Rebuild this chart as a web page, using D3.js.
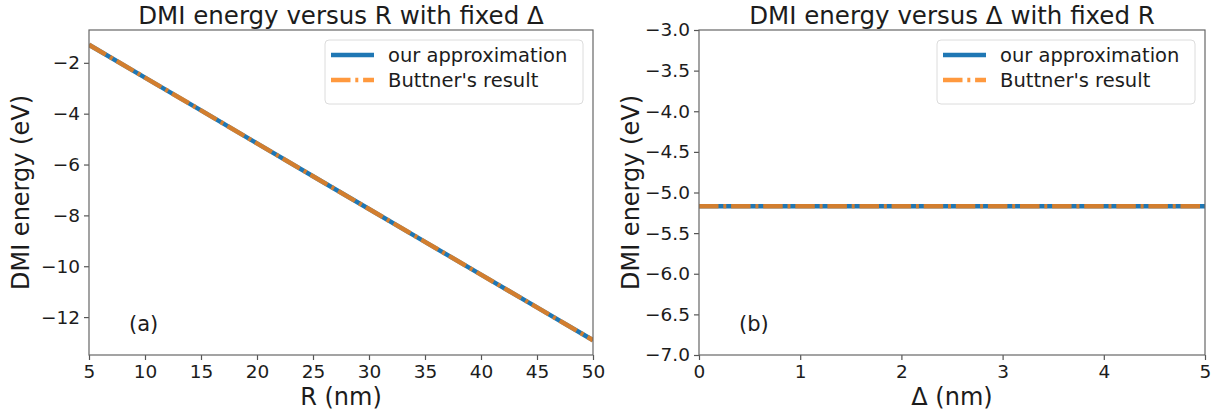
<!DOCTYPE html>
<html>
<head>
<meta charset="utf-8">
<script src="https://cdnjs.cloudflare.com/ajax/libs/d3/7.8.5/d3.min.js"></script>
<style>
    body { margin: 0; background: #fff; }
    svg text { font-family: "DejaVu Sans", sans-serif; fill: #1c1c1c; }
</style>
</head>
<body>
<svg id="chart" width="1217" height="418"></svg>
<script>
// values
const R_VALUES = [5, 10, 15, 20, 25, 30, 35, 40, 45, 50];
const APPROX_VS_R = [-1.29, -2.58, -3.87, -5.17, -6.46, -7.75, -9.04, -10.33, -11.62, -12.91];
const BUTTNER_VS_R = [-1.29, -2.58, -3.87, -5.17, -6.46, -7.75, -9.04, -10.33, -11.62, -12.91];

const DELTA_VALUES = [0, 0.5, 1, 1.5, 2, 2.5, 3, 3.5, 4, 4.5, 5];
const APPROX_VS_DELTA = [-5.17, -5.17, -5.17, -5.17, -5.17, -5.17, -5.17, -5.17, -5.17, -5.17, -5.17];
const BUTTNER_VS_DELTA = [-5.17, -5.17, -5.17, -5.17, -5.17, -5.17, -5.17, -5.17, -5.17, -5.17, -5.17];

const R_TICKS = [5, 10, 15, 20, 25, 30, 35, 40, 45, 50];
const R_ENERGY_TICKS = [-2, -4, -6, -8, -10, -12];
const DELTA_TICKS = [0, 1, 2, 3, 4, 5];
const DELTA_ENERGY_TICKS = [-3.0, -3.5, -4.0, -4.5, -5.0, -5.5, -6.0, -6.5, -7.0];
const DELTA_ENERGY_RANGE = [-7, -3];

const SERIES_NAMES = ["our approximation", "Buttner's result"];

const BLUE = "#1f77b4";
const ORANGE = "#ff7f0e";
const DASHDOT = "19.5,4.8,3,4.8";
const TOP = 30;
const BOTTOM = 355;

const svg = d3.select("#chart");

/**
 * Draws one panel: spines, ticks, both series, legend and labels
 * @param {object} p panel settings
 */
function drawPanel(p) {
    let x = d3.scaleLinear().domain(p.xDomain).range([p.left, p.right]);
    let yDomain = p.yDomain;
    if (!yDomain) {
        // matplotlib style autoscale, 5% margin
        const ext = d3.extent(p.approx.concat(p.buttner));
        const m = (ext[1] - ext[0]) * 0.05;
        yDomain = [ext[0] - m, ext[1] + m];
    }
    let y = d3.scaleLinear().domain(yDomain).range([BOTTOM, TOP]);

    let g = svg.append("g");

    g.append("clipPath").attr("id", p.id + "-clip")
        .append("rect")
        .attr("x", p.left).attr("y", TOP)
        .attr("width", p.right - p.left).attr("height", BOTTOM - TOP);

    let xAxis = g.append("g")
        .attr("transform", "translate(0," + BOTTOM + ")")
        .call(d3.axisBottom(x).tickValues(p.xTicks).tickSize(5).tickPadding(5).tickFormat(d3.format("d")));
    let yAxis = g.append("g")
        .attr("transform", "translate(" + p.left + ",0)")
        .call(d3.axisLeft(y).tickValues(p.yTicks).tickSize(5).tickPadding(4).tickFormat(d3.format(p.yFormat)));
    [xAxis, yAxis].forEach(function (a) {
        a.select(".domain").remove();
        a.selectAll(".tick line").attr("stroke", "#555").attr("stroke-width", 1.2);
        a.selectAll(".tick text").style("font-size", "18.5px").attr("fill", "#1c1c1c");
    });

    let line = d3.line()
        .x(function (d) { return x(d[0]); })
        .y(function (d) { return y(d[1]); });

    let plot = g.append("g").attr("clip-path", "url(#" + p.id + "-clip)");
    plot.append("path")
        .datum(p.xs.map(function (v, i) { return [v, p.approx[i]]; }))
        .attr("d", line)
        .attr("fill", "none")
        .attr("stroke", BLUE)
        .attr("stroke-width", 4.5);
    plot.append("path")
        .datum(p.xs.map(function (v, i) { return [v, p.buttner[i]]; }))
        .attr("d", line)
        .attr("fill", "none")
        .attr("stroke", ORANGE)
        .attr("stroke-opacity", 0.8)
        .attr("stroke-width", 4.5)
        .attr("stroke-dasharray", DASHDOT);

    // spines
    g.append("rect")
        .attr("x", p.left).attr("y", TOP)
        .attr("width", p.right - p.left).attr("height", BOTTOM - TOP)
        .attr("fill", "none")
        .attr("stroke", "#666")
        .attr("stroke-width", 1.2);

    // legend
    const lw = 258, lx = p.right - 10 - lw, ly = 40;
    let legend = g.append("g");
    legend.append("rect")
        .attr("x", lx).attr("y", ly)
        .attr("width", lw).attr("height", 64)
        .attr("rx", 4)
        .attr("fill", "#fff")
        .attr("fill-opacity", 0.8)
        .attr("stroke", "#dcdcdc");
    SERIES_NAMES.forEach(function (name, i) {
        const yy = ly + 15 + i * 25;
        legend.append("line")
            .attr("x1", lx + 6).attr("x2", lx + 49)
            .attr("y1", yy).attr("y2", yy)
            .attr("stroke", i === 0 ? BLUE : ORANGE)
            .attr("stroke-opacity", i === 0 ? 1 : 0.8)
            .attr("stroke-width", 4.5)
            .attr("stroke-dasharray", i === 0 ? null : DASHDOT);
        legend.append("text")
            .attr("x", lx + 63).attr("y", yy + 7)
            .style("font-size", "19.5px")
            .text(name);
    });

    const cx = (p.left + p.right) / 2;
    g.append("text")
        .attr("x", cx).attr("y", 24)
        .attr("text-anchor", "middle")
        .style("font-size", "24.5px")
        .text(p.title);
    g.append("text")
        .attr("x", cx).attr("y", 405)
        .attr("text-anchor", "middle")
        .style("font-size", "24px")
        .text(p.xLabel);
    g.append("text")
        .attr("transform", "translate(" + (p.left - 60) + "," + ((TOP + BOTTOM) / 2) + ") rotate(-90)")
        .attr("text-anchor", "middle")
        .style("font-size", "24px")
        .text("DMI energy (eV)");
    g.append("text")
        .attr("x", p.left + 40).attr("y", 331)
        .style("font-size", "21px")
        .text(p.tag);
}

drawPanel({
    id: "a", left: 89, right: 593,
    xs: R_VALUES, approx: APPROX_VS_R, buttner: BUTTNER_VS_R,
    xDomain: [5, 50], yDomain: null,
    xTicks: R_TICKS, yTicks: R_ENERGY_TICKS, yFormat: "d",
    title: "DMI energy versus R with fixed \u0394",
    xLabel: "R (nm)", tag: "(a)"
});

drawPanel({
    id: "b", left: 699, right: 1205,
    xs: DELTA_VALUES, approx: APPROX_VS_DELTA, buttner: BUTTNER_VS_DELTA,
    xDomain: [0, 5], yDomain: DELTA_ENERGY_RANGE,
    xTicks: DELTA_TICKS, yTicks: DELTA_ENERGY_TICKS, yFormat: ".1f",
    title: "DMI energy versus \u0394 with fixed R",
    xLabel: "\u0394 (nm)", tag: "(b)"
});
</script>
</body>
</html>
